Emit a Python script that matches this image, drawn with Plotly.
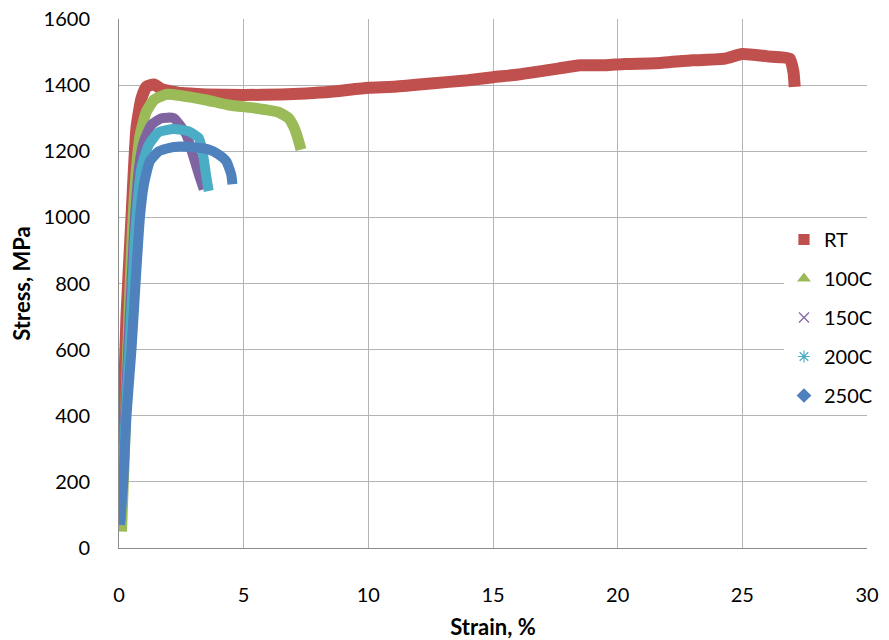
import plotly.graph_objects as go

# Strain (%) and stress (MPa)
rt_strain = [0.0, 0.1, 0.2, 0.3, 0.5, 0.7, 0.9, 1.1, 1.4, 1.7, 2.5, 3.5, 5.0, 6.5, 7.5, 8.5, 10.0, 11.0,
             12.5, 14.0, 15.0, 16.0, 17.6, 18.5, 19.5, 20.3, 21.5, 23.0, 24.3, 25.0, 26.0, 26.9, 27.05, 27.1]
rt_stress = [60, 220, 450, 700, 1000, 1270, 1360, 1395, 1402, 1388, 1376, 1372, 1370, 1372, 1375, 1380, 1392, 1395,
             1405, 1415, 1424, 1432, 1450, 1460, 1460, 1464, 1466, 1475, 1480, 1494, 1487, 1480, 1440, 1395]

c100_strain = [0.1, 0.2, 0.35, 0.5, 0.65, 0.85, 1.1, 1.4, 1.9, 2.5, 3.5, 4.4, 5.5, 6.4, 6.8, 7.0, 7.15, 7.3]
c100_stress = [50, 250, 600, 900, 1100, 1250, 1320, 1355, 1372, 1368, 1355, 1340, 1330, 1318, 1300, 1275, 1245, 1205]

c150_strain = [0.05, 0.4, 0.6, 0.8, 1.0, 1.3, 1.7, 2.2, 2.7, 2.96, 3.2, 3.4]
c150_stress = [80, 650, 950, 1150, 1230, 1280, 1300, 1300, 1250, 1190, 1130, 1085]

c200_strain = [0.05, 0.45, 0.65, 0.9, 1.2, 1.6, 2.2, 2.8, 3.2, 3.35, 3.45, 3.55, 3.6]
c200_stress = [80, 650, 950, 1150, 1220, 1258, 1267, 1260, 1240, 1200, 1150, 1100, 1080]

c250_strain = [0.04, 0.17, 0.3, 0.5, 0.68, 0.84, 1.0, 1.24, 1.6, 2.2, 3.0, 3.6, 4.0, 4.3, 4.5, 4.55]
c250_stress = [70, 200, 400, 600, 820, 1000, 1100, 1170, 1200, 1213, 1212, 1205, 1190, 1170, 1130, 1100]

names = ["RT", "100C", "150C", "200C", "250C"]
colors = ["#C0504D", "#9BBB59", "#8064A2", "#4BACC6", "#4F81BD"]
symbols = ["square", "triangle-up", "x-thin", "asterisk", "diamond"]
widths = [12, 11, 10, 10, 10]
series = [(rt_strain, rt_stress), (c100_strain, c100_stress), (c150_strain, c150_stress),
          (c200_strain, c200_stress), (c250_strain, c250_stress)]

fig = go.Figure()
for (xs, ys), col, w in zip(series, colors, widths):
    fig.add_trace(go.Scatter(x=xs, y=ys, mode="lines", showlegend=False,
                             line=dict(color=col, width=w, shape="spline", smoothing=0.5)))
for name, col, sym in zip(names, colors, symbols):
    fig.add_trace(go.Scatter(x=[None], y=[None], mode="markers", name=name, legendgroup=name,
                             marker=dict(color=col, symbol=sym, size=10,
                                         line=dict(color=col, width=1.2))))

font_family = "Lato, Open Sans, Liberation Sans, Arial, sans-serif"
fig.update_layout(
    width=881, height=632,
    margin=dict(l=111, r=18, t=11, b=92),
    paper_bgcolor="white", plot_bgcolor="white",
    font=dict(family=font_family, size=20, color="black"),
    legend=dict(x=0.889, xanchor="left", y=0.62, yanchor="top", bgcolor="white",
                font=dict(size=20), tracegroupgap=10, itemwidth=30),
    xaxis=dict(range=[0, 30], dtick=5, showgrid=True, gridcolor="#B4B4B4", gridwidth=1,
               showline=True, linecolor="#8C8C8C", linewidth=1, zeroline=False,
               ticks="", ticklabelstandoff=29, automargin=False, ticklabeloverflow="allow",
               title=dict(text="<b>Strain, %</b>", font=dict(size=22), standoff=18)),
    yaxis=dict(range=[0, 1600], dtick=200, showgrid=True, gridcolor="#B4B4B4", gridwidth=1,
               showline=True, linecolor="#8C8C8C", linewidth=1, zeroline=False,
               ticks="", ticklabelstandoff=24, automargin=False, ticklabeloverflow="allow",
               title=dict(text="<b>Stress, MPa</b>", font=dict(size=22), standoff=14)),
)
fig.write_html("out.html")
